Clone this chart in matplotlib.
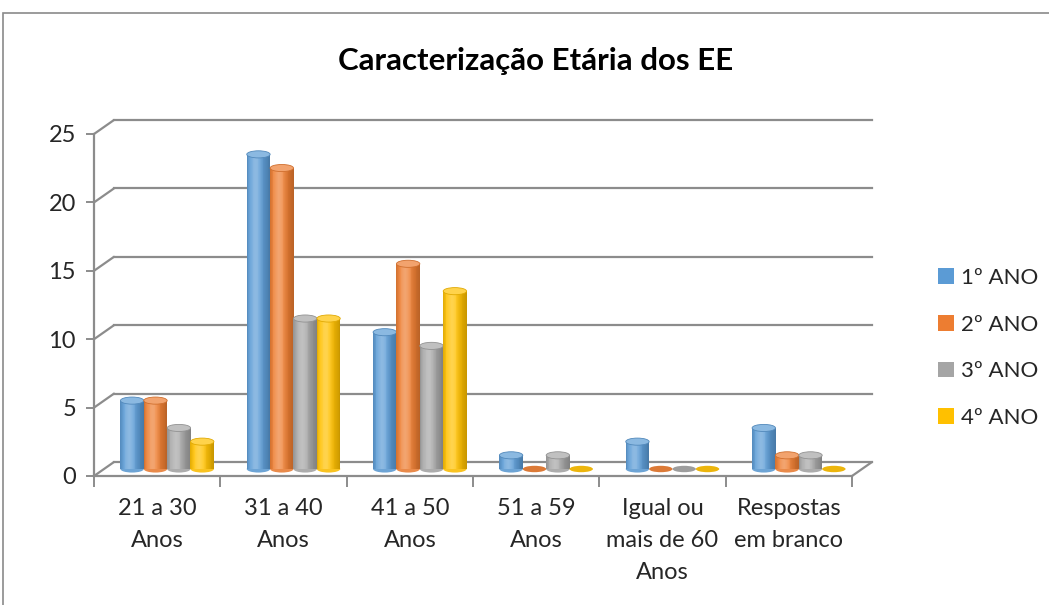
import numpy as np
import matplotlib
matplotlib.use("Agg")
import matplotlib.pyplot as plt
from matplotlib.patches import Ellipse, Patch, Rectangle, ConnectionPatch
from matplotlib.transforms import ScaledTranslation
from matplotlib.colors import to_rgb

plt.rcParams['font.family'] = ['Lato', 'DejaVu Sans']

# data
categories = ["21 a 30\nAnos", "31 a 40\nAnos", "41 a 50\nAnos", "51 a 59\nAnos",
              "Igual ou\nmais de 60\nAnos", "Respostas\nem branco"]
series = ["1º ANO", "2º ANO", "3º ANO", "4º ANO"]
ano1 = [5, 23, 10, 1, 2, 3]
ano2 = [5, 22, 15, 0, 0, 1]
ano3 = [3, 11, 9, 1, 0, 1]
ano4 = [2, 11, 13, 0, 0, 0]
values = [ano1, ano2, ano3, ano4]
colors = ['#5B9BD5', '#ED7D31', '#A5A5A5', '#FFC000']
yticks = [0, 5, 10, 15, 20, 25]

grid_c = '#8c8c8c'
text_c = '#262626'


def shade(c, t):
    '''cylinder shading across the bar, t from 0 (left) to 1 (right)'''
    rgb = np.array(to_rgb(c))
    light = 0.30 * np.exp(-((t - 0.38) / 0.24) ** 2)
    dark = 0.22 * max(0, t - 0.55) / 0.45 + 0.12 * max(0, 0.15 - t) / 0.15
    out = rgb + (1 - rgb) * light
    return np.clip(out * (1 - dark), 0, 1)


fig = plt.figure(figsize=(10.49, 6.05), dpi=100)
fig.patches.append(Rectangle((3 / 1049, -0.1), 1.2, 1.1 - 13 / 605,
                             transform=fig.transFigure, fill=False,
                             edgecolor='#8a8a8a', linewidth=1.2))

ax = fig.add_axes([94 / 1049, 129 / 605, 758 / 1049, 342 / 605])
ax.set_xlim(0, len(categories))
ax.set_ylim(0, 25)
ax.patch.set_visible(False)

back = ax.transData + ScaledTranslation(0.20, 0.14, fig.dpi_scale_trans)
mid = ax.transData + ScaledTranslation(0.10, 0.07, fig.dpi_scale_trans)

# back wall, side wall and floor
for v in yticks:
    ax.plot([0, len(categories)], [v, v], color=grid_c, lw=1.6, transform=back,
            clip_on=False, zorder=1)
    ax.add_artist(ConnectionPatch((0, v), (0, v), coordsA=ax.transData, coordsB=back,
                                  color=grid_c, lw=1.6, zorder=1, clip_on=False))
ax.add_artist(ConnectionPatch((len(categories), 0), (len(categories), 0),
                              coordsA=ax.transData, coordsB=back,
                              color=grid_c, lw=1.6, zorder=1, clip_on=False))

for s in ['top', 'right']:
    ax.spines[s].set_visible(False)
for s in ['left', 'bottom']:
    ax.spines[s].set_color(grid_c)
    ax.spines[s].set_linewidth(1.6)

ax.set_yticks(yticks)
ax.tick_params(axis='y', length=6, width=1.4, color=grid_c, pad=7,
               labelsize=17, labelcolor=text_c)
ax.set_xticks(np.arange(len(categories) + 1))
ax.set_xticklabels([])
ax.set_xticks(np.arange(len(categories)) + 0.5, minor=True)
ax.set_xticklabels(categories, minor=True, linespacing=1.65)
ax.tick_params(axis='x', which='major', length=8, width=1.4, color=grid_c)
ax.tick_params(axis='x', which='minor', length=0, pad=16, labelsize=17,
               labelcolor=text_c)

# cylinders
w = 0.185
n_strips = 28
eh = 0.52
for j, (vals, c) in enumerate(zip(values, colors)):
    for i, v in enumerate(vals):
        x0 = i + 0.5 + (j - 2) * w
        xc = x0 + w / 2
        z = 3 + i
        if v == 0:
            ax.add_patch(Ellipse((xc, 0), w, eh * 0.9, facecolor=shade(c, 0.7),
                                 edgecolor='none', transform=mid, zorder=z,
                                 clip_on=False))
            continue
        ax.add_patch(Ellipse((xc, 0), w, eh, facecolor=shade(c, 0.6),
                             edgecolor='none', transform=mid, zorder=z, clip_on=False))
        sw = w / n_strips
        for k in range(n_strips):
            t = (k + 0.5) / n_strips
            ax.bar(x0 + (k + 0.5) * sw, v, width=sw * 1.15, bottom=0,
                   color=shade(c, t), linewidth=0, transform=mid, zorder=z,
                   clip_on=False)
        ax.add_patch(Ellipse((xc, v), w, eh, facecolor=shade(c, 0.35),
                             edgecolor=shade(c, 0.8), linewidth=0.6,
                             transform=mid, zorder=z, clip_on=False))

ax.set_xlim(0, len(categories))
ax.set_ylim(0, 25)

fig.text(536 / 1049, 1 - 61 / 605, "Caracterização Etária dos EE", ha='center',
         va='center', fontsize=22.5, fontweight='bold', color='black')

handles = [Patch(facecolor=c, edgecolor='none') for c in colors]
fig.legend(handles, series, loc='center left', bbox_to_anchor=(927 / 1049, 1 - 348 / 605),
           frameon=False, fontsize=16, handlelength=0.7, handleheight=0.7,
           handletextpad=0.35, labelspacing=1.2, borderpad=0, labelcolor=text_c)

fig.savefig("out.png", dpi=100)
